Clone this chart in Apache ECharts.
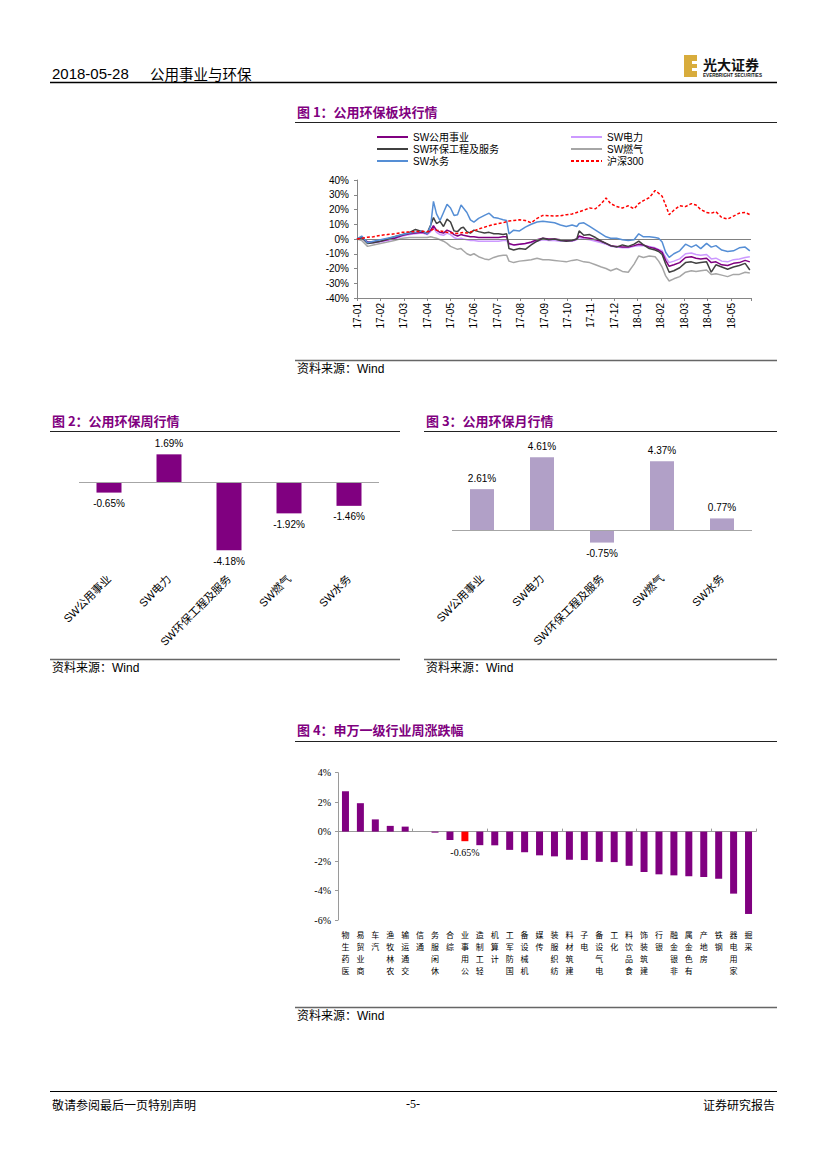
<!DOCTYPE html>
<html><head><meta charset="utf-8">
<script src="https://cdn.jsdelivr.net/npm/echarts@6/dist/echarts.min.js"></script>
<style>html,body{margin:0;padding:0;background:#fff}#c{width:827px;height:1169px}</style>
</head><body><div id="c"></div>
<script>
// ---------- Figure 1 data (months since 2017-01-01) ----------
const f1TickLabels = ['17-01','17-02','17-03','17-04','17-05','17-06','17-07','17-08','17-09','17-10','17-11','17-12','18-01','18-02','18-03','18-04','18-05'];
const f1Month = [0,0.2,0.45,0.7,1.0, 1.3,1.6,1.95,2.25,2.5, 2.8,3.0,3.15,3.27,3.4, 3.55,3.7,3.85,4.0,4.15,
  4.3,4.45,4.55,4.7,4.85, 5.0,5.2,5.45,5.65,5.85, 6.05,6.25,6.4,6.5,6.7, 6.95,7.2,7.45,7.7,7.95,
  8.2,8.45,8.7,8.95,9.2, 9.4,9.5,9.7,9.95,10.2, 10.45,10.65,10.85,11.1,11.35, 11.6,11.85,12.05,12.25,12.5,
  12.75,12.9,13.05,13.2,13.35, 13.55,13.8,14.05,14.3,14.5, 14.7,14.95,15.15,15.35,15.6, 15.85,16.1,16.35,16.6,16.8];
const f1Names = ['SW公用事业','SW电力','SW环保工程及服务','SW燃气','SW水务','沪深300'];
const hs300 = [0,0.5,1.2,1.5,2.5, 3.0,3.5,4.5,4.8,5.0, 5.2,4.8,5.8,6.8,6.0, 5.5,5.0,4.5,4.2,4.0,
  3.8,4.2,4.5,4.0,4.8, 5.5,6.8,8.0,9.0,9.8, 10.5,11.0,11.8,12.2,12.5, 13.0,12.5,11.0,14.0,16.0,
  15.8,15.5,15.8,16.5,17.0, 18.0,18.5,19.5,21.0,20.5, 24.0,27.8,24.0,22.0,21.0, 22.5,20.5,24.0,26.0,28.0,
  32.9,31.0,29.0,23.0,16.5, 19.5,22.5,22.0,24.0,23.0, 20.0,18.0,17.5,18.5,14.5, 13.5,15.5,17.5,18.0,16.5];
const swWater = [0,2.0,-2.5,-1.5,-0.5, 0.5,1.5,3.0,4.0,4.5, 5.5,3.5,9.0,25.5,17.0, 12.5,18.0,23.5,21.0,16.0,
  16.5,23.0,21.0,18.0,13.0, 11.5,14.0,16.0,17.5,14.5, 14.0,13.0,12.5,3.5,6.0, 5.5,8.0,10.0,11.5,12.0,
  11.5,11.0,9.5,8.5,9.5, 8.5,10.5,11.0,8.5,6.0, 3.5,1.5,0.5,0.5,-0.5, -1.0,-0.5,3.5,1.5,1.5,
  1.0,0.5,-2.0,-9.0,-12.5, -10.0,-8.0,-3.5,-5.5,-4.0, -6.5,-3.0,-5.5,-4.5,-7.5, -8.5,-8.0,-6.0,-5.5,-8.0];
const swEnv = [0,1.0,-3.0,-2.5,-1.5, 0,1.5,3.0,4.5,6.5, 5.0,4.0,9.5,14.5,10.5, 12.0,8.5,13.5,11.5,5.5,
  5.0,7.5,8.0,5.0,4.0, 6.0,5.0,4.0,4.5,3.5, 3.5,3.0,3.5,-6.5,-7.5, -6.5,-7.0,-4.0,-1.5,0.5,
  -0.5,0,-1.0,-1.5,-1.0, 0,5.5,2.5,3.0,1.0, -1.5,-3.0,-4.5,-5.5,-4.0, -5.0,-3.5,-1.5,-4.0,-6.5,
  -7.5,-8.5,-10.5,-17.0,-22.5, -21.5,-19.5,-16.0,-15.5,-16.5, -16.0,-15.5,-22.5,-17.5,-19.0, -20.5,-19.0,-18.0,-16.5,-21.0];
const swUtil = [0,1.0,-2.0,-2.0,-1.5, -0.5,0.5,2.5,3.5,4.0, 4.5,3.5,6.0,9.0,6.0, 4.5,4.0,6.0,5.0,3.0,
  2.0,3.0,2.5,2.0,1.5, 1.5,1.0,1.0,1.0,1.0, 1.0,1.5,1.5,-3.0,-4.0, -3.5,-3.0,-2.0,-0.5,0.5,
  0,0,-0.5,-1.0,-1.0, 0,2.0,1.0,0.5,-0.5, -1.5,-3.0,-4.5,-5.0,-5.5, -5.5,-4.5,-3.5,-4.0,-5.5,
  -6.5,-7.5,-9.0,-14.5,-18.5, -17.5,-16.0,-12.5,-12.0,-13.0, -13.5,-13.0,-16.0,-15.5,-17.5, -18.0,-16.5,-16.0,-14.5,-15.5];
const swPower = [0,0.5,-2.5,-2.5,-2.0, -1.0,0,2.0,3.0,3.5, 4.0,3.0,5.0,7.5,4.5, 3.0,2.5,4.0,3.0,1.0,
  0,0.5,0,-0.5,-1.0, -1.0,-1.5,-1.5,-1.5,-1.5, -1.5,-1.0,-1.0,-3.5,-4.0, -3.5,-3.0,-2.5,-1.5,-0.5,
  -1.0,-1.0,-1.5,-1.5,-1.5, -0.5,1.0,0,-0.5,-1.5, -2.5,-3.5,-5.0,-5.5,-6.0, -6.0,-5.0,-4.5,-4.5,-5.0,
  -6.0,-7.0,-8.0,-12.5,-16.0, -15.0,-13.5,-10.0,-9.5,-10.5, -11.0,-10.5,-13.5,-13.0,-15.0, -15.5,-14.0,-13.5,-12.5,-12.0];
const swGas = [0,-1.0,-5.0,-4.0,-3.0, -2.0,-1.0,0.5,1.0,1.0, 1.0,1.0,1.5,1.0,0.5, -0.5,-1.5,-3.0,-5.0,-6.0,
  -7.0,-6.5,-8.0,-10.0,-11.0, -10.0,-12.0,-13.5,-14.0,-12.5, -11.5,-11.0,-11.0,-15.0,-16.0, -15.0,-14.5,-14.0,-13.0,-14.0,
  -14.0,-14.5,-15.0,-15.5,-14.5, -14.0,-14.5,-15.5,-16.0,-17.5, -19.0,-20.0,-21.5,-20.0,-22.0, -22.5,-17.0,-11.5,-12.5,-11.5,
  -12.0,-15.0,-19.0,-25.0,-28.5, -27.0,-25.5,-22.5,-21.5,-22.0, -21.5,-21.0,-24.0,-23.5,-24.5, -25.5,-24.0,-24.0,-22.5,-23.0];

// ---------- Figures 2 & 3 ----------
const f2Cats = ['SW公用事业','SW电力','SW环保工程及服务','SW燃气','SW水务'];
const f2Week = [-0.65,1.69,-4.18,-1.92,-1.46];
const f3Month = [2.61,4.61,-0.75,4.37,0.77];

// ---------- Figure 4 ----------
const f4Cats = ['医药生物','商业贸易','汽车','农林牧渔','交通运输','通信','休闲服务','综合','公用事业','轻工制造','计算机','国防军工','机械设备','传媒',
  '纺织服装','建筑材料','电子','电气设备','化工','食品饮料','建筑装饰','银行','非银金融','有色金属','房地产','钢铁','家用电器','采掘'];
const f4Values = [2.74,1.93,0.83,0.39,0.34,0.0,-0.07,-0.57,-0.65,-0.92,-0.93,-1.24,-1.40,-1.61,
  -1.68,-1.91,-1.93,-2.05,-2.07,-2.32,-2.74,-2.90,-2.97,-3.03,-3.08,-3.20,-4.21,-5.59];
const f4Highlight = '公用事业';

const SANS = '"Liberation Sans", Arial, "Noto Sans CJK SC"';
const CJK = '"Noto Sans CJK SC"';
const PURPLE = '#800080';

const chart = echarts.init(document.getElementById('c'), null, {renderer: 'svg', width: 827, height: 1169});

function pts(arr){ return f1Month.map((m,i)=>[m, arr[i]]); }
function lineSeries(name, arr, color, z, dashed){
  return {type:'line', name, xAxisIndex:0, yAxisIndex:0, data: pts(arr), symbol:'none', showSymbol:false,
    z, lineStyle:{color, width:1.5, type: dashed ? [3,2] : 'solid'}, itemStyle:{color}, animation:false};
}
function txt(x,y,text,font,fill,align,valign){
  return {type:'text', x, y, silent:true, style:{text, font, fill: fill||'#000', textAlign: align||'left', align: align||'left',
    textVerticalAlign: valign||'middle', verticalAlign: valign||'middle'}};
}
function hline(x1,x2,y,color,w){
  return {type:'line', silent:true, shape:{x1,y1:y,x2,y2:y}, style:{stroke:color,lineWidth:w}};
}
const fmtPct = v => v.toFixed(2) + '%';

const graphic = [
  // header
  txt(52,73,'2018-05-28','15px "Liberation Sans"','#000'),
  txt(150,73,'公用事业与环保','14.5px ' + CJK,'#000'),
  hline(50,777,82.5,'#000',1.5),
  {type:'rect', silent:true, shape:{x:684,y:55,width:13,height:22}, style:{fill:'#D8AC3C'}},
  {type:'rect', silent:true, shape:{x:692,y:61,width:5,height:3}, style:{fill:'#fff'}},
  {type:'rect', silent:true, shape:{x:692,y:68,width:5,height:3}, style:{fill:'#fff'}},
  txt(703,63.5,'光大证券','bold 14px ' + CJK,'#111'),
  txt(703,75.5,'EVERBRIGHT SECURITIES','bold 4.6px "Liberation Sans"','#111'),
  // fig 1
  txt(297,111,'图 1：公用环保板块行情','bold 13px ' + CJK, PURPLE),
  hline(295,777,122.5,'#222',1),
  hline(295,777,360.5,'#666',1.5),
  txt(297,369,'资料来源：Wind','12px ' + SANS,'#000'),
  // fig 2
  txt(52,420,'图 2：公用环保周行情','bold 13px ' + CJK, PURPLE),
  hline(50,400,431.5,'#222',1),
  hline(50,400,659.5,'#666',1.5),
  txt(52,668,'资料来源：Wind','12px ' + SANS,'#000'),
  // fig 3
  txt(426,420,'图 3：公用环保月行情','bold 13px ' + CJK, PURPLE),
  hline(424,777,431.5,'#222',1),
  hline(424,777,659.5,'#666',1.5),
  txt(426,668,'资料来源：Wind','12px ' + SANS,'#000'),
  // fig 4
  txt(297,729,'图 4：申万一级行业周涨跌幅','bold 13px ' + CJK, PURPLE),
  hline(295,777,741.5,'#222',1),
  hline(295,777,1007.5,'#666',1.5),
  txt(297,1016,'资料来源：Wind','12px ' + SANS,'#000'),
  // footer
  hline(50,777,1091.5,'#000',1),
  txt(52,1104,'敬请参阅最后一页特别声明','12px ' + CJK,'#000'),
  txt(413,1104,'-5-','12px "Liberation Serif"','#000','center'),
  txt(775,1104,'证券研究报告','12px ' + CJK,'#000','right')
];

const legendBase = {orient:'vertical', itemGap:2, itemWidth:31, itemHeight:10, padding:0, top:132,
  itemStyle:{opacity:0, borderWidth:0}, textStyle:{fontSize:10, color:'#000', fontFamily:SANS}, selectedMode:false};

const option = {
  animation:false,
  backgroundColor:'#fff',
  textStyle:{fontFamily: SANS},
  grid:[
    {left:357, top:180, width:394, height:118},
    {left:79, top:441.1, width:300, height:130.8},
    {left:452, top:443.2, width:300, height:127.2},
    {left:338, top:772.7, width:418, height:147.3}
  ],
  legend:[
    Object.assign({data:['SW公用事业','SW环保工程及服务','SW水务'], left:376}, legendBase),
    Object.assign({data:['SW电力','SW燃气','沪深300'], left:570}, legendBase)
  ],
  xAxis:[
    {gridIndex:0, type:'value', min:0, max:16.85, interval:1, position:'bottom',
      axisLine:{onZero:false, lineStyle:{color:'#868686'}}, axisTick:{length:3, lineStyle:{color:'#868686'}},
      splitLine:{show:false},
      axisLabel:{rotate:90, margin:5, fontSize:10, color:'#000', fontFamily:SANS,
        formatter: v => (Math.abs(v - Math.round(v)) < 1e-6 && f1TickLabels[Math.round(v)]) ? f1TickLabels[Math.round(v)] : ''}},
    {gridIndex:1, type:'category', data:f2Cats, position:'bottom',
      axisLine:{show:false, onZero:false}, axisTick:{show:false},
      axisLabel:{rotate:45, margin:5, interval:0, fontSize:11, color:'#000', fontFamily:SANS}},
    {gridIndex:2, type:'category', data:f2Cats, position:'bottom',
      axisLine:{show:false, onZero:false}, axisTick:{show:false},
      axisLabel:{rotate:45, margin:6, interval:0, fontSize:11, color:'#000', fontFamily:SANS}},
    {gridIndex:3, type:'category', data:f4Cats, position:'bottom',
      axisLine:{show:false, onZero:false}, axisTick:{show:false},
      axisLabel:{interval:0, margin:8, fontSize:8, lineHeight:12, color:'#000', fontFamily:CJK, verticalAlign:'top',
        formatter: s => s.split('').reverse().join('\n')}},
    {gridIndex:3, type:'category', data:f4Cats, position:'bottom',
      axisLine:{show:true, onZero:true, lineStyle:{color:'#9A9A9A'}}, axisTick:{show:true, inside:true, length:3, lineStyle:{color:'#9A9A9A'}},
      axisLabel:{show:false}}
  ],
  yAxis:[
    {gridIndex:0, type:'value', min:-40, max:40, interval:10,
      axisLine:{show:true, lineStyle:{color:'#868686'}}, axisTick:{show:true, length:3, lineStyle:{color:'#868686'}},
      splitLine:{show:false}, axisLabel:{margin:8, fontSize:10, color:'#000', fontFamily:SANS, formatter:'{value}%'}},
    {gridIndex:1, type:'value', min:-5.5, max:2.5, show:false, splitLine:{show:false}},
    {gridIndex:2, type:'value', min:-2.5, max:5.5, show:false, splitLine:{show:false}},
    {gridIndex:3, type:'value', min:-6, max:4, interval:2,
      axisLine:{show:true, lineStyle:{color:'#9A9A9A'}}, axisTick:{show:true, length:3, lineStyle:{color:'#9A9A9A'}},
      splitLine:{show:false}, axisLabel:{margin:7, fontSize:10, color:'#000', fontFamily:'"Liberation Serif"', formatter:'{value}%'}}
  ],
  series:[
    Object.assign(lineSeries('SW燃气', swGas, '#A6A6A6', 2), {
      markLine:{silent:true, symbol:'none', label:{show:false}, data:[{yAxis:0}], lineStyle:{color:'#808080', width:1, type:'solid'}}}),
    lineSeries('SW电力', swPower, '#CC99FF', 3),
    lineSeries('SW公用事业', swUtil, PURPLE, 4),
    lineSeries('SW环保工程及服务', swEnv, '#404040', 5),
    lineSeries('SW水务', swWater, '#558ED5', 6),
    lineSeries('沪深300', hs300, '#FF0000', 7, true),
    {type:'bar', name:'周行情', xAxisIndex:1, yAxisIndex:1, data:f2Week, barWidth:25,
      itemStyle:{color:PURPLE},
      label:{show:true, position:'outside', distance:6, fontSize:10, color:'#000', fontFamily:SANS, formatter: p => fmtPct(p.value)},
      markLine:{silent:true, symbol:'none', label:{show:false}, data:[{yAxis:0}], lineStyle:{color:'#A6A6A6', width:1, type:'solid'}}},
    {type:'bar', name:'月行情', xAxisIndex:2, yAxisIndex:2, data:f3Month, barWidth:24,
      itemStyle:{color:'#B1A0C7'},
      label:{show:true, position:'outside', distance:6, fontSize:10, color:'#000', fontFamily:SANS, formatter: p => fmtPct(p.value)},
      markLine:{silent:true, symbol:'none', label:{show:false}, data:[{yAxis:0}], lineStyle:{color:'#A6A6A6', width:1, type:'solid'}}},
    {type:'bar', name:'周涨跌幅', xAxisIndex:3, yAxisIndex:3, barWidth:7,
      data: f4Values.map((v,i) => f4Cats[i] === f4Highlight
        ? {value:v, itemStyle:{color:'#FF0000'}, label:{show:true, position:'outside', distance:6, fontSize:10, color:'#000',
            fontFamily:'"Liberation Serif"', formatter: p => fmtPct(p.value)}}
        : {value:v}),
      itemStyle:{color:PURPLE}, label:{show:false}}
  ],
  graphic
};
chart.setOption(option);
</script></body></html>
